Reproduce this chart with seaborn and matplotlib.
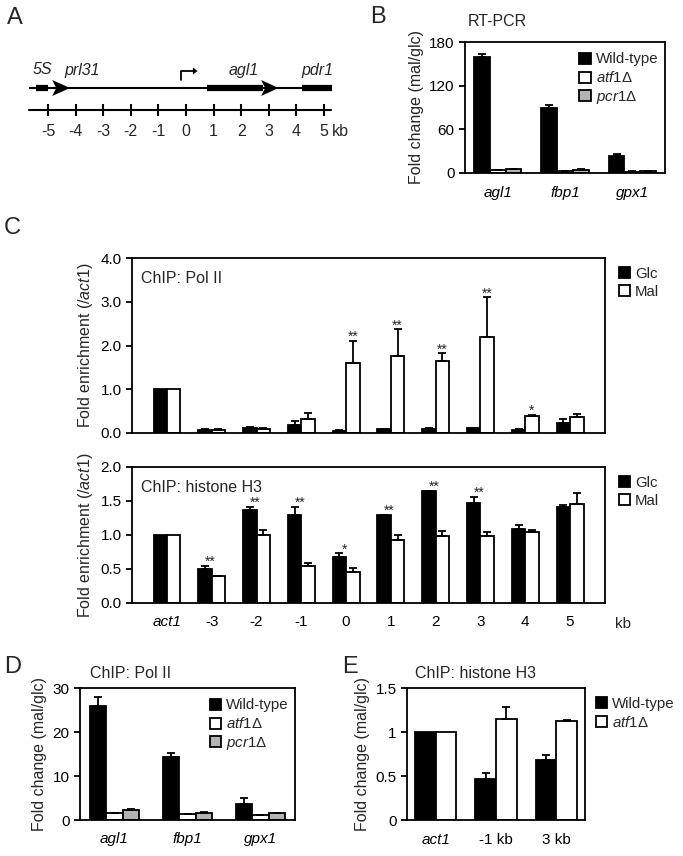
import numpy as np
import pandas as pd
import seaborn as sns
import matplotlib.pyplot as plt
from matplotlib.patches import Patch

# ---- panel A: gene map (kb)
map_ticks = [-5, -4, -3, -2, -1, 0, 1, 2, 3, 4, 5]
gene_names = ["5S", "prl31", "agl1", "pdr1"]
gene_label_x = [-5.22, -3.75, 2.1, 4.75]
thick_segments = [(-5.43, -5.0), (0.75, 2.8), (4.2, 5.3)]
arrow_heads = [(-4.85, -4.2), (2.72, 3.35)]
tss_kb = -0.18

# ---- panel B: RT-PCR
rt_genes = ["agl1", "fbp1", "gpx1"]
strains = ["Wild-type", r"$\mathit{atf1}$Δ", r"$\mathit{pcr1}$Δ"]
rt_wt = [160, 90, 24]
rt_wt_err = [3, 3, 1.5]
rt_atf1 = [4, 3, 2]
rt_atf1_err = [0.5, 0.3, 0.2]
rt_pcr1 = [5, 4.5, 2.5]
rt_pcr1_err = [0.5, 0.4, 0.3]

# ---- panel C: ChIP along the locus
sites = ["act1", "-3", "-2", "-1", "0", "1", "2", "3", "4", "5"]
conds = ["Glc", "Mal"]
pol2_glc = [1.0, 0.08, 0.11, 0.18, 0.05, 0.09, 0.10, 0.11, 0.08, 0.24]
pol2_glc_err = [0, 0.01, 0.02, 0.09, 0.01, 0.01, 0.01, 0.01, 0.01, 0.09]
pol2_mal = [1.0, 0.08, 0.10, 0.33, 1.60, 1.77, 1.65, 2.20, 0.38, 0.36]
pol2_mal_err = [0, 0.02, 0.01, 0.13, 0.50, 0.60, 0.17, 0.90, 0.04, 0.08]
pol2_stars = ["", "", "", "", "**", "**", "**", "**", "*", ""]

h3_glc = [1.0, 0.50, 1.37, 1.29, 0.67, 1.29, 1.64, 1.47, 1.09, 1.41]
h3_glc_err = [0, 0.04, 0.04, 0.12, 0.06, 0.01, 0.005, 0.09, 0.05, 0.03]
h3_mal = [1.0, 0.39, 1.00, 0.54, 0.46, 0.92, 0.99, 0.99, 1.04, 1.45]
h3_mal_err = [0, 0.005, 0.07, 0.05, 0.06, 0.08, 0.07, 0.06, 0.04, 0.17]
h3_stars = ["", "**", "**", "**", "*", "**", "**", "**", "", ""]

# ---- panel D: ChIP Pol II fold change
chip_wt = [26, 14.4, 3.6]
chip_wt_err = [2, 0.9, 1.5]
chip_atf1 = [1.5, 1.3, 1.1]
chip_atf1_err = [0.2, 0.1, 0.1]
chip_pcr1 = [2.3, 1.7, 1.5]
chip_pcr1_err = [0.1, 0.1, 0.2]

# ---- panel E: ChIP H3 fold change
e_sites = ["act1", "-1 kb", "3 kb"]
e_strains = ["Wild-type", r"$\mathit{atf1}$Δ"]
e_wt = [1.0, 0.47, 0.68]
e_wt_err = [0, 0.06, 0.06]
e_atf1 = [1.0, 1.15, 1.13]
e_atf1_err = [0, 0.13, 0.01]

GRAY = "#b3b3b3"
LW = 1.3

sns.set_style("ticks")
plt.rcParams["font.family"] = ["Liberation Sans", "DejaVu Sans"]
plt.rcParams["mathtext.fontset"] = "custom"
plt.rcParams["mathtext.rm"] = "Liberation Sans"
plt.rcParams["mathtext.it"] = "Liberation Sans:italic"
plt.rcParams["font.size"] = 11
plt.rcParams["axes.linewidth"] = LW
plt.rcParams["xtick.major.width"] = LW
plt.rcParams["ytick.major.width"] = LW
plt.rcParams["ytick.major.size"] = 4
plt.rcParams["axes.edgecolor"] = "black"
plt.rcParams["xtick.color"] = "black"
plt.rcParams["ytick.color"] = "black"

W, H = 683, 856
fig = plt.figure(figsize=(W / 100, H / 100), dpi=100)


def add_ax(l, t, r, b):
    return fig.add_axes([l / W, 1 - b / H, (r - l) / W, (b - t) / H])


def fig_text(x, y, s, **kw):
    fig.text(x / W, 1 - y / H, s, **kw)


def grouped_bars(ax, cats, names, values, errors, colors, width):
    rows = []
    for name, vals in zip(names, values):
        for c, v in zip(cats, vals):
            rows.append({"cat": c, "grp": name, "val": v})
    df = pd.DataFrame(rows)
    sns.barplot(data=df, x="cat", y="val", hue="grp", order=cats, hue_order=names,
                palette=colors, width=width, edgecolor="black", linewidth=LW,
                errorbar=None, saturation=1, legend=False, ax=ax)
    centers = []
    for cont, err in zip(ax.containers, errors):
        xs = np.array([b.get_x() + b.get_width() / 2 for b in cont])
        ys = np.array([b.get_height() for b in cont])
        err = np.array(err, dtype=float)
        m = err > 0
        ax.errorbar(xs[m], ys[m], yerr=[np.zeros(m.sum()), err[m]], fmt="none",
                    ecolor="black", elinewidth=LW, capsize=3, capthick=LW, zorder=3)
        centers.append((xs, ys + err))
    ax.set_xlabel("")
    ax.tick_params(axis="x", length=0, pad=9)
    for s in ["top", "right"]:
        ax.spines[s].set_visible(True)
    return centers


def legend_handles(names, colors):
    return [Patch(facecolor=c, edgecolor="black", linewidth=LW, label=n)
            for n, c in zip(names, colors)]


leg_kw = dict(frameon=False, handlelength=0.75, handleheight=0.75, handletextpad=0.35,
              labelspacing=0.25, fontsize=10.8)

# ================= A
axA = add_ax(20, 50, 360, 150)
axA.set_xlim((20 - 186) / 27.6, (360 - 186) / 27.6)
axA.set_ylim(150, 50)
axA.axis("off")
axA.plot([-5.7, 5.3], [88, 88], color="black", lw=1.5, solid_capstyle="butt")
for x0, x1 in thick_segments:
    axA.plot([x0, x1], [88, 88], color="black", lw=4.5, solid_capstyle="butt")
for x0, x1 in arrow_heads:
    axA.fill([x0, x1, x0, x0 + 0.15], [80, 88, 96, 88], color="black", lw=0)
for name, gx in zip(gene_names, gene_label_x):
    axA.text(gx, 70, name, ha="center", va="center", style="italic", fontsize=11.5)
axA.plot([tss_kb, tss_kb, 0.3], [80, 71, 71], color="black", lw=1.3)
axA.fill([0.25, 0.42, 0.25], [67.5, 71, 74.5], color="black", lw=0)
axA.plot([-5.7, 5.25], [110, 110], color="black", lw=1.5)
axA.vlines(map_ticks, 104, 116, color="black", lw=1.5)
for k in map_ticks:
    axA.text(k, 132, str(k), ha="center", va="center", fontsize=11.5)
axA.text(5.3, 132, "kb", ha="left", va="center", fontsize=11.5, clip_on=False)

# ================= B
axB = add_ax(465, 42, 665, 173)
grouped_bars(axB, rt_genes, strains, [rt_wt, rt_atf1, rt_pcr1],
             [rt_wt_err, rt_atf1_err, rt_pcr1_err], ["black", "white", GRAY], 0.7)
axB.set_ylim(0, 180)
axB.set_yticks([0, 60, 120, 180])
axB.set_ylabel("Fold change (mal/glc)", fontsize=11.5)
for t in axB.get_xticklabels():
    t.set_fontstyle("italic")
axB.legend(handles=legend_handles(strains, ["black", "white", GRAY]), loc="upper right",
           bbox_to_anchor=(1.02, 1.0), borderaxespad=0.3, **leg_kw)
fig_text(468, 21, "RT-PCR", ha="left", va="center", fontsize=11.5)

# ================= C (Pol II)
axC1 = add_ax(132, 258, 605, 433)
cen = grouped_bars(axC1, sites, conds, [pol2_glc, pol2_mal], [pol2_glc_err, pol2_mal_err],
                   ["black", "white"], 0.6)
axC1.set_ylim(0, 4)
axC1.set_yticks([0, 1, 2, 3, 4])
axC1.set_yticklabels([f"{v:.1f}" for v in [0, 1, 2, 3, 4]])
axC1.set_xticklabels([])
axC1.set_ylabel(r"Fold enrichment ($\mathit{/act1}$)", fontsize=11.5)
xs_mal, tops_mal = cen[1]
for x, y, s in zip(xs_mal, tops_mal, pol2_stars):
    if s:
        axC1.annotate(s, (x, y), xytext=(0, -3), textcoords="offset pixels",
                      ha="center", va="bottom", fontsize=10)
axC1.text(0.02, 0.885, "ChIP: Pol II", transform=axC1.transAxes, ha="left", va="center",
          fontsize=11.5)
axC1.legend(handles=legend_handles(conds, ["black", "white"]), loc="upper left",
            bbox_to_anchor=(1.01, 1.0), borderaxespad=0.2, **leg_kw)

# ================= C (H3)
axC2 = add_ax(132, 467, 605, 603)
cen = grouped_bars(axC2, sites, conds, [h3_glc, h3_mal], [h3_glc_err, h3_mal_err],
                   ["black", "white"], 0.6)
axC2.set_ylim(0, 2)
axC2.set_yticks([0, 0.5, 1, 1.5, 2])
axC2.set_yticklabels([f"{v:.1f}" for v in [0, 0.5, 1, 1.5, 2]])
axC2.set_ylabel(r"Fold enrichment ($\mathit{/act1}$)", fontsize=11.5)
axC2.get_xticklabels()[0].set_fontstyle("italic")
axC2.annotate("kb", xy=(1, 0), xycoords="axes fraction", xytext=(10, -21),
              textcoords="offset pixels", ha="left", va="center", fontsize=11)
xs_glc, tops_glc = cen[0]
for x, y, s in zip(xs_glc, tops_glc, h3_stars):
    if s:
        axC2.annotate(s, (x + 0.12, y), xytext=(0, -3), textcoords="offset pixels",
                      ha="center", va="bottom", fontsize=10)
axC2.text(0.02, 0.85, "ChIP: histone H3", transform=axC2.transAxes, ha="left", va="center",
          fontsize=11.5)
axC2.legend(handles=legend_handles(conds, ["black", "white"]), loc="upper left",
            bbox_to_anchor=(1.01, 1.0), borderaxespad=0.2, **leg_kw)

# ================= D
axD = add_ax(80, 688, 295, 820)
grouped_bars(axD, rt_genes, strains, [chip_wt, chip_atf1, chip_pcr1],
             [chip_wt_err, chip_atf1_err, chip_pcr1_err], ["black", "white", GRAY], 0.68)
axD.set_ylim(0, 30)
axD.set_yticks([0, 10, 20, 30])
axD.set_ylabel("Fold change (mal/glc)", fontsize=11.5)
for t in axD.get_xticklabels():
    t.set_fontstyle("italic")
axD.legend(handles=legend_handles(strains, ["black", "white", GRAY]), loc="upper right",
           bbox_to_anchor=(1.02, 1.0), borderaxespad=0.3, **leg_kw)
fig_text(90, 673, "ChIP: Pol II", ha="left", va="center", fontsize=11.5)

# ================= E
axE = add_ax(407, 688, 585, 820)
grouped_bars(axE, e_sites, e_strains, [e_wt, e_atf1], [e_wt_err, e_atf1_err],
             ["black", "white"], 0.68)
axE.set_ylim(0, 1.5)
axE.set_yticks([0, 0.5, 1, 1.5])
axE.set_yticklabels(["0", "0.5", "1", "1.5"])
axE.set_ylabel("Fold change (mal/glc)", fontsize=11.5)
axE.get_xticklabels()[0].set_fontstyle("italic")
axE.legend(handles=legend_handles(e_strains, ["black", "white"]), loc="upper left",
           bbox_to_anchor=(1.01, 1.0), borderaxespad=0.2, **leg_kw)
fig_text(415, 673, "ChIP: histone H3", ha="left", va="center", fontsize=11.5)

# panel letters
for letter, (x, y) in zip("ABCDE", [(15, 18), (378, 17), (12, 228), (13, 667), (350, 667)]):
    fig_text(x, y, letter, ha="center", va="center", fontsize=17)

fig.savefig("out.png", dpi=100)
